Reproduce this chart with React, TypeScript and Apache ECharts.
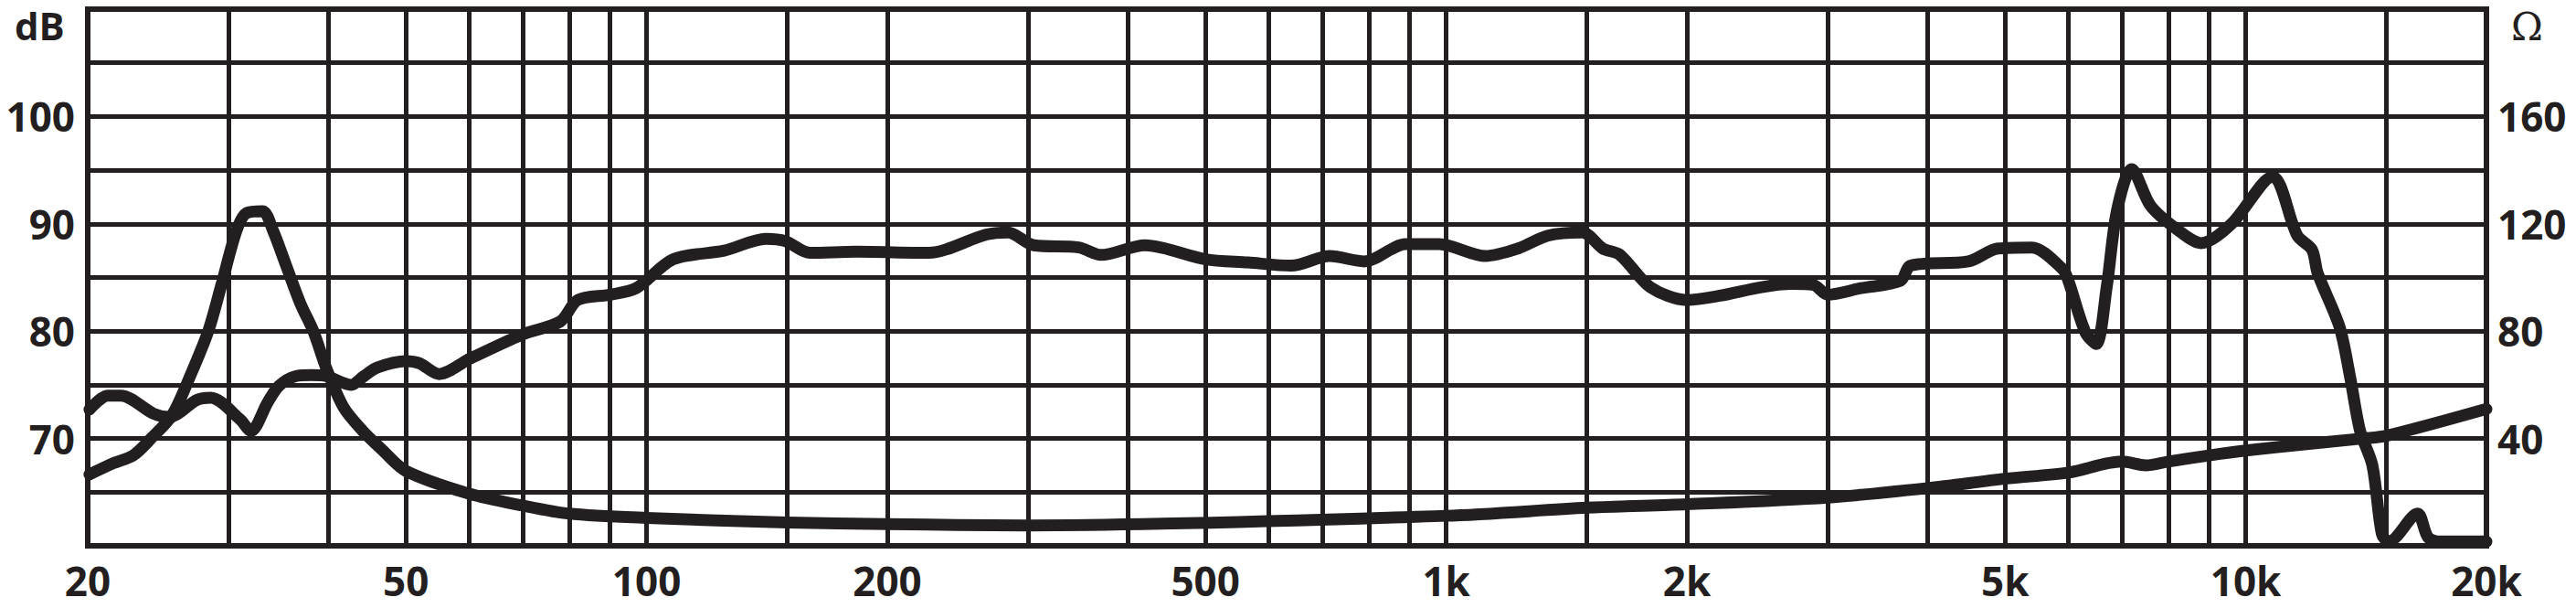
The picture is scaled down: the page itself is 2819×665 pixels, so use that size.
import React, { useEffect, useRef } from "react";
import * as echarts from "echarts";

// frequency grid and labels
const gridFreqs = [
  20, 30, 40, 50, 60, 70, 80, 90, 100, 150, 200, 300, 400, 500, 600, 700, 800, 900,
  1000, 1500, 2000, 3000, 4000, 5000, 6000, 7000, 8000, 9000, 10000, 15000, 20000,
];
const labelFreqs = [20, 50, 100, 200, 500, 1000, 2000, 5000, 10000, 20000];
const dbLabels = [70, 80, 90, 100];
const ohmLabels = [40, 80, 120, 160];

// SPL curve (dB)
const splFreq = [
  20.1, 21.2, 22, 24.2, 25.3, 27.4, 28.5, 31, 32, 33.6, 34.7, 36.4, 38.1, 39.8, 42.7, 44.3,
  46, 50, 52, 55, 60, 70, 78, 82, 90, 97, 108, 125, 141, 149, 160, 183, 225, 266, 283, 305,
  347, 370, 420, 500, 565, 640, 715, 790, 890, 980, 1120, 1230, 1340, 1480, 1570, 1650,
  1800, 2000, 2200, 2480, 2700, 2880, 3000, 3300, 3700, 3810, 4500, 4900, 5400, 5900,
  6000, 6300, 6500, 6700, 6900, 7200, 7600, 8200, 8800, 9600, 10800, 11600, 12100, 12300,
  13100, 13500, 13900, 14400, 14800, 15100, 16400, 16900, 17500, 20000,
];
const splDb = [
  72.7, 74, 74, 72.3, 72, 73.6, 73.8, 71.8, 70.7, 73.4, 74.9, 75.8, 75.9, 75.8, 75, 75.8,
  76.6, 77.2, 77, 76, 77.4, 79.7, 80.9, 82.9, 83.4, 84, 86.7, 87.5, 88.6, 88.4, 87.3, 87.4,
  87.3, 89, 89.2, 88, 87.8, 87.1, 88, 86.7, 86.4, 86.1, 87, 86.5, 88.1, 88.1, 87, 87.7,
  88.9, 89.2, 87.7, 87.1, 84.1, 82.9, 83.3, 84.1, 84.4, 84.3, 83.4, 84, 84.7, 86.1, 86.5,
  87.7, 87.8, 85.8, 84.7, 79.9, 78.8, 84.1, 91.2, 95.1, 91.7, 89.5, 88.2, 90, 94.4, 88.9,
  87.6, 85.4, 80.4, 75.8, 70.7, 67.5, 61.1, 60.4, 63, 60.8, 60.4, 60.4,
];

// impedance curve (ohm)
const impFreq = [
  20.1, 21.5, 22.8, 24, 25.5, 26.9, 28.3, 29.4, 30.7, 31.6, 33.1, 34.1, 35.4, 36.9, 38.3,
  39.8, 41.8, 44.1, 46.7, 50, 60, 70, 80, 100, 150, 200, 300, 1000, 1500, 2000, 3000, 4000,
  5000, 6000, 7000, 7500, 8000, 9000, 10000, 12000, 14000, 15000, 20000,
];
const impOhm = [
  26.6, 30.7, 33.7, 40, 48.7, 63.7, 80, 97.4, 117.5, 124, 124.7, 117.5, 104.6, 90.3, 80,
  65.8, 51.5, 43, 35.8, 27.9, 19.4, 15, 12, 10.4, 8.7, 8.1, 7.6, 11.2, 14.2, 15.5, 18,
  21.5, 25, 27.3, 31.4, 30, 31.4, 33.7, 35.5, 38, 40, 41, 51,
];

const INK = "#231f20";
const FONT = "'Open Sans', sans-serif";
const lg = (f: number) => Math.log10(f);

const App = () => {
  const chartRef = useRef<HTMLDivElement>(null);

  useEffect(() => {
    if (!chartRef.current) return;
    document.body.style.margin = "0";
    const chart = echarts.init(chartRef.current, null, { renderer: "svg" });

    const labelStyle = { color: INK, fontFamily: FONT, fontWeight: 700, fontSize: 44 };

    const option: echarts.EChartsCoreOption = {
      animation: false,
      backgroundColor: "#fff",
      grid: {
        left: 96,
        right: 98,
        top: 10,
        bottom: 68,
        show: true,
        borderColor: INK,
        borderWidth: 6,
      },
      xAxis: {
        type: "value",
        min: lg(20),
        max: lg(20000),
        axisLine: { show: false },
        axisTick: { show: false, customValues: gridFreqs.map(lg) },
        splitLine: { show: true, lineStyle: { color: INK, width: 5 } },
        axisLabel: {
          ...labelStyle,
          margin: 16,
          customValues: labelFreqs.map(lg),
          formatter: (v: number) => {
            const f = Math.round(Math.pow(10, v));
            return f >= 1000 ? f / 1000 + "k" : String(f);
          },
        },
      },
      yAxis: [
        {
          type: "value",
          min: 60,
          max: 110,
          interval: 5,
          axisLine: { show: false },
          axisTick: { show: false },
          splitLine: { show: true, lineStyle: { color: INK, width: 5 } },
          axisLabel: {
            ...labelStyle,
            margin: 14,
            formatter: (v: number) => (dbLabels.includes(v) ? String(v) : ""),
          },
        },
        {
          type: "value",
          min: 0,
          max: 200,
          interval: 20,
          axisLine: { show: false },
          axisTick: { show: false },
          splitLine: { show: false },
          axisLabel: {
            ...labelStyle,
            margin: 12,
            formatter: (v: number) => (ohmLabels.includes(v) ? String(v) : ""),
          },
        },
      ],
      graphic: [
        { type: "text", left: 16, top: 6, style: { text: "dB", ...labelStyle, fill: INK, fontSize: 42 } },
        { type: "text", left: 2748, top: 8, style: { text: "Ω", ...labelStyle, fill: INK, fontSize: 42, fontFamily: "'DejaVu Serif', serif", fontWeight: 400 } },
      ],
      series: [
        {
          type: "line",
          yAxisIndex: 0,
          data: splFreq.map((f, i) => [lg(f), splDb[i]]),
          showSymbol: false,
          smooth: 0.3,
          lineStyle: { color: INK, width: 13, cap: "round", join: "round" },
        },
        {
          type: "line",
          yAxisIndex: 1,
          data: impFreq.map((f, i) => [lg(f), impOhm[i]]),
          showSymbol: false,
          smooth: 0.3,
          lineStyle: { color: INK, width: 13, cap: "round", join: "round" },
        },
      ],
    };

    chart.setOption(option);
    return () => chart.dispose();
  }, []);

  return <div ref={chartRef} style={{ width: 2819, height: 665 }} />;
};

export default App;
